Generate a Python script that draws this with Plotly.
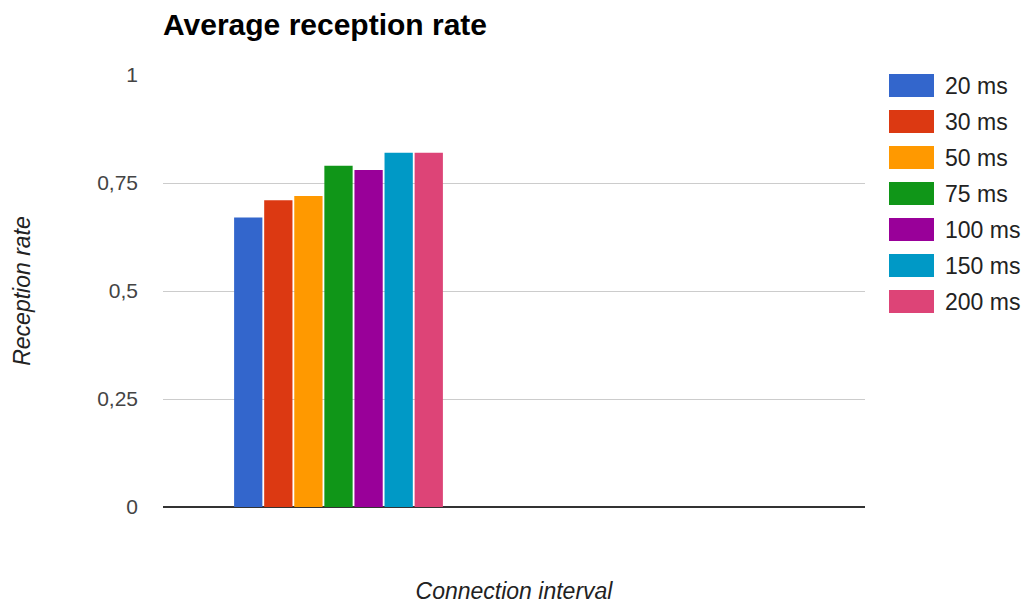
import plotly.graph_objects as go

# Connection-interval series and their average reception rates
series_names = ["20 ms", "30 ms", "50 ms", "75 ms", "100 ms", "150 ms", "200 ms"]
reception_rates = [0.67, 0.71, 0.72, 0.79, 0.78, 0.82, 0.82]
series_colors = ["#3366cc", "#dc3912", "#ff9900", "#109618", "#990099", "#0099c6", "#dd4477"]

# Two category slots on the x axis; only the first one holds data
slot_positions = [0, 1]

y_tick_values = [0, 0.25, 0.5, 0.75, 1]
y_tick_labels = ["0", "0,25", "0,5", "0,75", "1"]

FONT = "Arial, 'Liberation Sans', sans-serif"

fig = go.Figure()
for name, rate, color in zip(series_names, reception_rates, series_colors):
    fig.add_trace(go.Bar(
        x=slot_positions,
        y=[rate, None],
        name=name,
        marker=dict(color=color, line=dict(width=0)),
        showlegend=False,
    ))

# Legend drawn as wide colour swatches to the right of the plot
ROW_STEP = 36
for i, (name, color) in enumerate(zip(series_names, series_colors)):
    center = -(10.5 + ROW_STEP * i)
    fig.add_shape(
        type="rect", xref="paper", yref="paper",
        xsizemode="pixel", ysizemode="pixel",
        xanchor=1, yanchor=1,
        x0=24, x1=69, y0=center - 11.5, y1=center + 11.5,
        fillcolor=color, line=dict(width=0),
    )
    fig.add_annotation(
        xref="paper", yref="paper", x=1, y=1,
        xshift=78, yshift=center,
        xanchor="left", yanchor="middle",
        text=name, showarrow=False,
        font=dict(family=FONT, size=23, color="#222222"),
    )

fig.update_layout(
    width=1025, height=604,
    margin=dict(l=163, r=160, t=75, b=97, autoexpand=False),
    paper_bgcolor="white", plot_bgcolor="white",
    barmode="group", bargap=0.4, bargroupgap=0.06,
    title=dict(
        text="<b>Average reception rate</b>",
        font=dict(family=FONT, size=30, color="#000000"),
        x=163 / 1025, xanchor="left",
        xref="container", yref="container",
        y=1 - 24 / 604, yanchor="middle",
    ),
    xaxis=dict(
        range=[-0.5, 1.5], showticklabels=False, showgrid=False,
        zeroline=False, showline=False, ticks="",
        title=dict(text="<i>Connection interval</i>", standoff=78,
                   font=dict(family=FONT, size=23, color="#222222")),
    ),
    yaxis=dict(
        range=[0, 1], tickvals=y_tick_values, ticktext=y_tick_labels,
        showgrid=True, gridcolor="#cccccc", gridwidth=1,
        zeroline=True, zerolinecolor="#333333", zerolinewidth=2,
        showline=False, ticks="", ticklabelstandoff=24,
        tickfont=dict(family=FONT, size=21, color="#444444"),
        title=dict(text="<i>Reception rate</i>", standoff=60,
                   font=dict(family=FONT, size=23, color="#222222")),
    ),
)

fig.write_html("out.html")
